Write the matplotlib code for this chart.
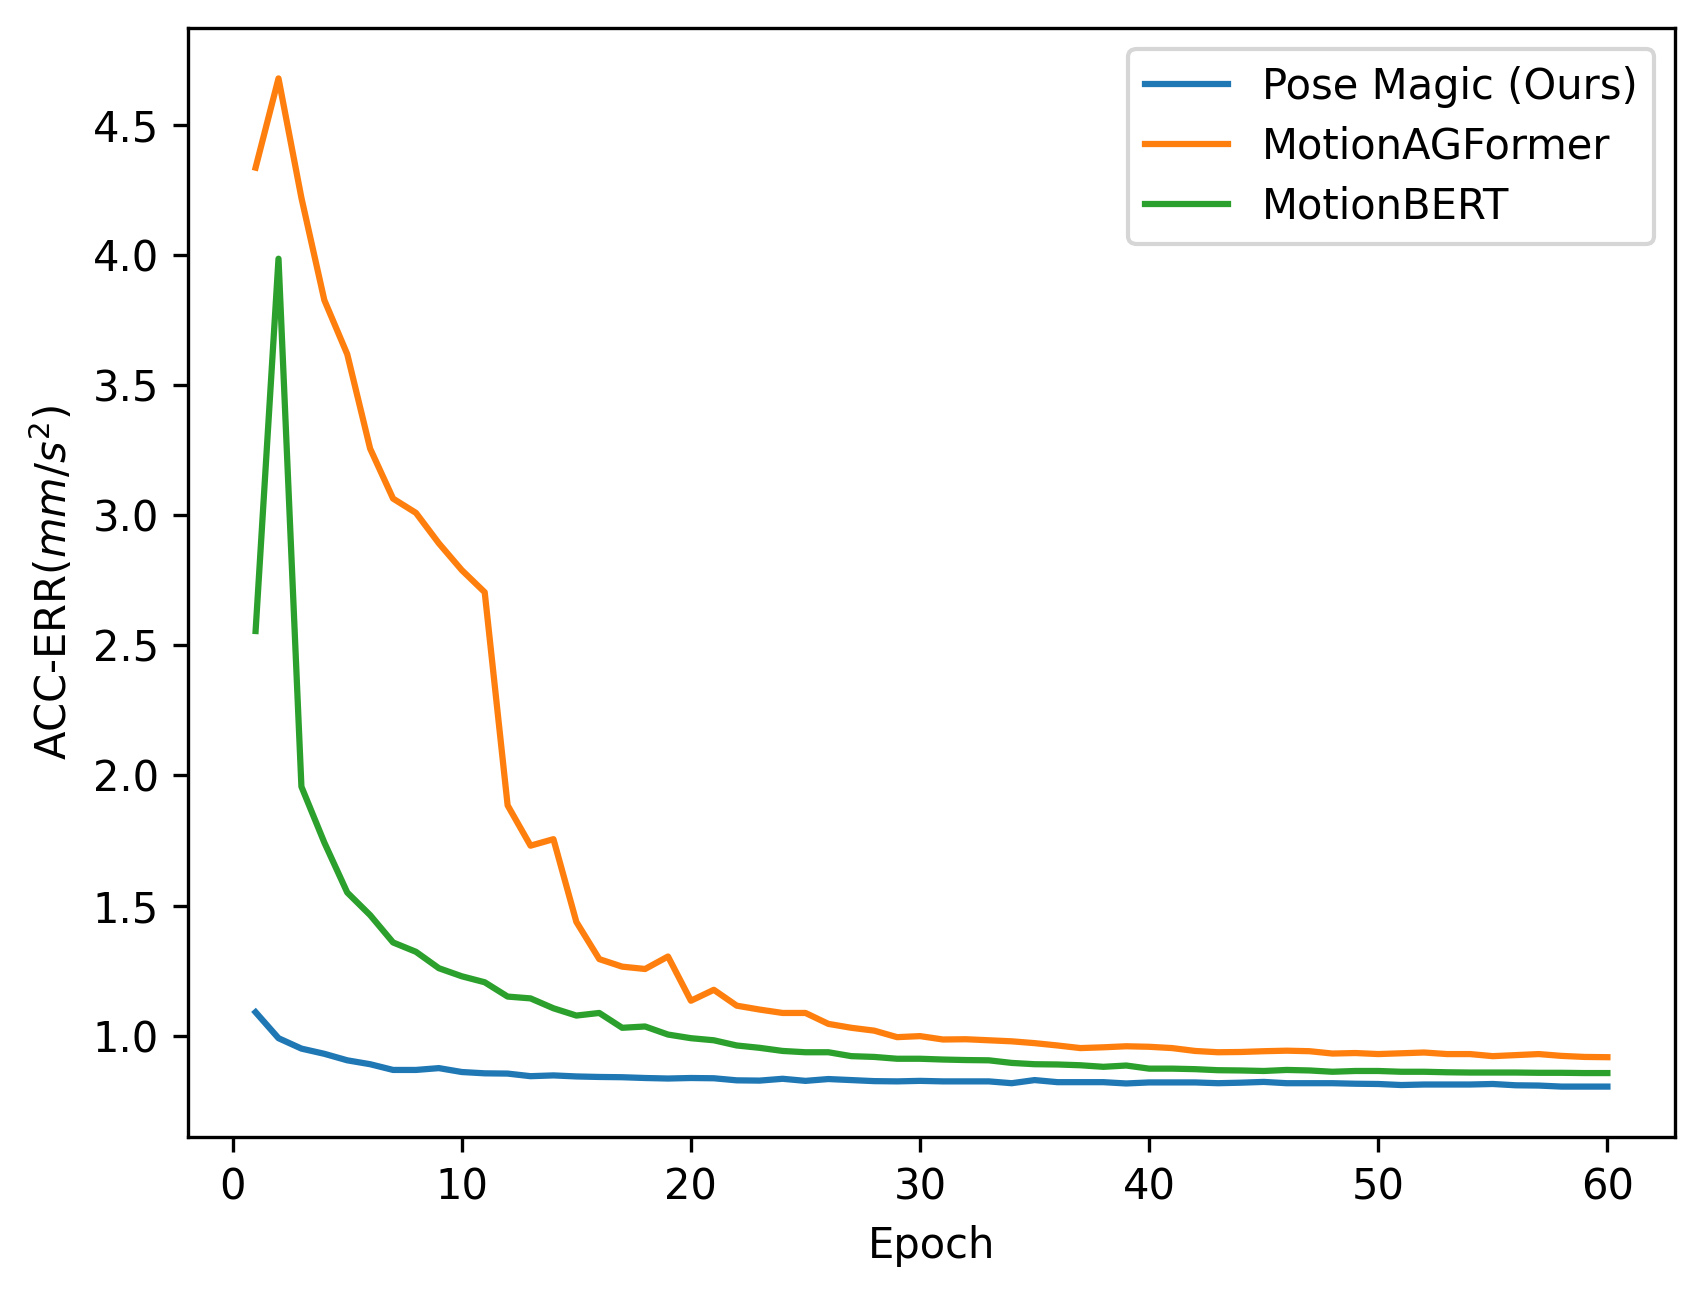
import matplotlib
matplotlib.use("Agg")
import matplotlib.pyplot as plt

epochs = list(range(1, 61))

pose_magic = [1.09, 0.99, 0.95, 0.93, 0.905, 0.89, 0.868, 0.868, 0.875, 0.86,
              0.855, 0.854, 0.844, 0.847, 0.843, 0.841, 0.84, 0.837, 0.835, 0.837,
              0.836, 0.828, 0.827, 0.834, 0.826, 0.833, 0.829, 0.825, 0.824, 0.826,
              0.824, 0.824, 0.824, 0.817, 0.829, 0.821, 0.821, 0.821, 0.816, 0.82,
              0.82, 0.82, 0.817, 0.819, 0.822, 0.817, 0.817, 0.817, 0.815, 0.814,
              0.81, 0.812, 0.812, 0.812, 0.814, 0.809, 0.808, 0.804, 0.804, 0.804]

motion_agformer = [4.336, 4.679, 4.22, 3.827, 3.619, 3.256, 3.064, 3.009, 2.892, 2.789,
                   2.704, 1.885, 1.73, 1.755, 1.437, 1.294, 1.265, 1.256, 1.304, 1.134,
                   1.176, 1.115, 1.10, 1.087, 1.087, 1.045, 1.03, 1.019, 0.994, 0.998,
                   0.985, 0.986, 0.982, 0.978, 0.971, 0.962, 0.952, 0.955, 0.959, 0.957,
                   0.952, 0.941, 0.936, 0.937, 0.94, 0.942, 0.94, 0.931, 0.933, 0.929,
                   0.932, 0.935, 0.929, 0.929, 0.921, 0.925, 0.929, 0.922, 0.918, 0.917]

motion_bert = [2.555, 3.986, 1.957, 1.742, 1.55, 1.463, 1.358, 1.322, 1.259, 1.228,
               1.205, 1.15, 1.143, 1.105, 1.077, 1.087, 1.03, 1.035, 1.004, 0.99,
               0.982, 0.962, 0.953, 0.941, 0.936, 0.936, 0.921, 0.918, 0.911, 0.911,
               0.908, 0.906, 0.905, 0.895, 0.89, 0.889, 0.886, 0.88, 0.885, 0.873,
               0.873, 0.871, 0.867, 0.866, 0.864, 0.868, 0.866, 0.861, 0.864, 0.864,
               0.861, 0.861, 0.859, 0.858, 0.858, 0.858, 0.857, 0.857, 0.856, 0.856]

labels = ["Pose Magic (Ours)", "MotionAGFormer", "MotionBERT"]

fig = plt.figure(figsize=(1706 / 300, 1294 / 300), dpi=300)
ax = fig.add_axes([188 / 1706, 1 - 1137 / 1294, (1675 - 188) / 1706, (1137 - 28) / 1294])
ax.plot(epochs, pose_magic, label=labels[0])
ax.plot(epochs, motion_agformer, label=labels[1])
ax.plot(epochs, motion_bert, label=labels[2])
ax.set_xlabel("Epoch")
ax.set_ylabel("ACC-ERR($mm/s^2$)")
ax.legend(loc="upper right", labelspacing=0.43)
fig.savefig("out.png", dpi=300)
